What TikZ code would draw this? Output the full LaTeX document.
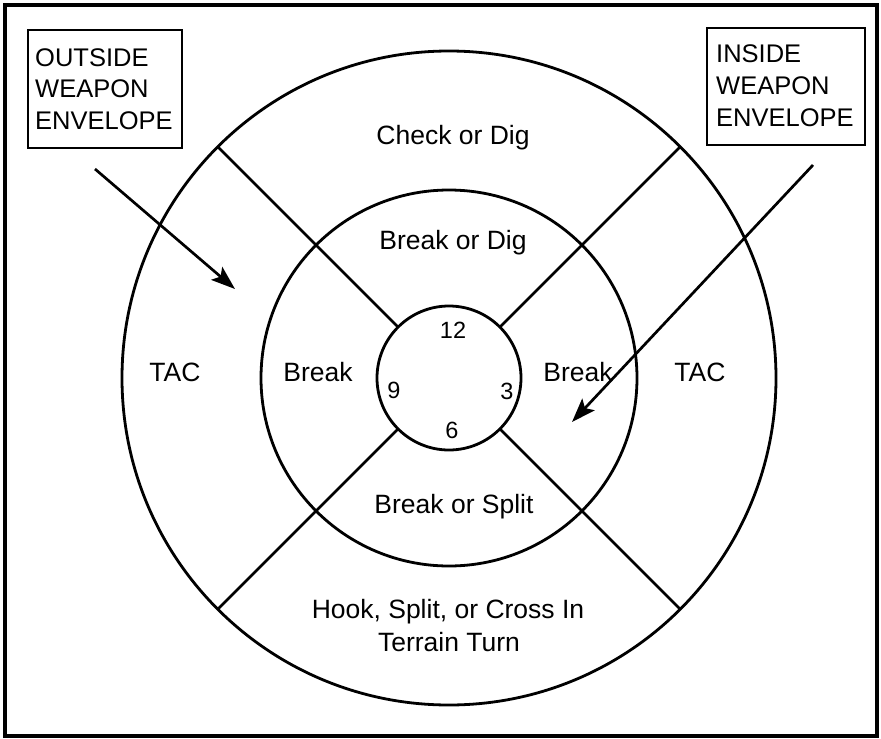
\documentclass[tikz,border=0pt]{standalone}
\usepackage{fontspec}
\setmainfont{Liberation Sans}
\usetikzlibrary{arrows.meta}
\begin{document}
\begin{tikzpicture}[x=1pt,y=-1pt,
  ring/.style={circle,draw,line width=2.8pt,inner sep=0pt,outer sep=0pt},
  spoke/.style={line width=2.7pt},
  lbl/.style={inner sep=0pt,font=\fontsize{26.5}{31}\selectfont},
  num/.style={inner sep=0pt,font=\fontsize{23.5}{28}\selectfont},
  boxlbl/.style={inner sep=0pt,anchor=base west,font=\fontsize{25.5}{31}\selectfont},
  envbox/.style={draw,line width=2.2pt,inner sep=0pt,outer sep=0pt,anchor=north west},
  pointer/.style={line width=2.7pt,-{Stealth[length=24pt,width=17pt,inset=5pt]}}]
\useasboundingbox (0,0) rectangle (881,739);
\fill[white] (0,0) rectangle (881,739);
\draw[line width=4pt] (5,5) rectangle (877,736);

% rings
\node[ring,minimum size=654pt] (outer) at (449,378) {};
\node[ring,minimum size=376pt] (middle) at (449,378) {};
\node[ring,minimum size=144pt] (inner) at (449,378) {};

% spokes
\draw[spoke] (inner.45) -- (outer.45);
\draw[spoke] (inner.135) -- (outer.135);
\draw[spoke] (inner.225) -- (outer.225);
\draw[spoke] (inner.315) -- (outer.315);

% sector labels
\node[lbl,anchor=base] (checkdig) at (453,144) {Check or Dig};
\node[lbl,anchor=base] (breakdig) at (453,249) {Break or Dig};
\node[lbl,anchor=base] (tacl) at (175,381) {TAC};
\node[lbl,anchor=base] (breakl) at (318,381) {Break};
\node[lbl,anchor=base] (breakr) at (578,381) {Break};
\node[lbl,anchor=base] (tacr) at (700,381) {TAC};
\node[lbl,anchor=base] (breaksplit) at (454,513) {Break or Split};
\node[lbl,anchor=base] (hook) at (448,618) {Hook, Split, or Cross In};
\node[lbl,anchor=base] (terrain) at (449,651) {Terrain Turn};

% clock numbers
\node[num,anchor=base] (n12) at (453,338) {12};
\node[num,anchor=base] (n9) at (394,398) {9};
\node[num,anchor=base] (n3) at (507,399) {3};
\node[num,anchor=base] (n6) at (452,438) {6};

% boxes
\node[envbox,minimum width=154pt,minimum height=118pt] (lbox) at (28,30) {};
\node[boxlbl] (l1) at (35,66) {OUTSIDE};
\node[boxlbl] (l2) at (35,97) {WEAPON};
\node[boxlbl] (l3) at (35,129) {ENVELOPE};

\node[envbox,minimum width=158pt,minimum height=117pt] (rbox) at (707,28) {};
\node[boxlbl] (r1) at (716,62) {INSIDE};
\node[boxlbl] (r2) at (716,94) {WEAPON};
\node[boxlbl] (r3) at (716,126) {ENVELOPE};

% arrows
\coordinate (la) at (95,169);
\coordinate (lt) at (235,289);
\coordinate (ra) at (813,165);
\coordinate (rt) at (572,422);
\draw[pointer] (la) -- (lt);
\draw[pointer] (ra) -- (rt);
\end{tikzpicture}
\end{document}
